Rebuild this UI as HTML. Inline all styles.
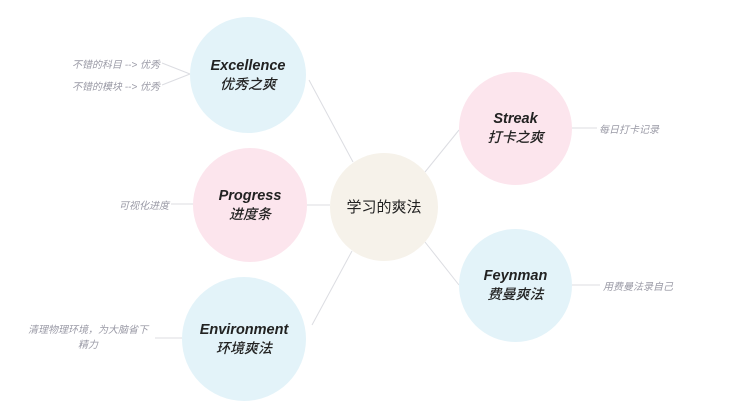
<!DOCTYPE html>
<html><head><meta charset="utf-8"><style>
body{margin:0;width:750px;height:414px;background:#fff;overflow:hidden;position:relative;font-family:"Liberation Sans","Noto Sans CJK SC",sans-serif}
.c{position:absolute;border-radius:50%;display:flex;flex-direction:column;align-items:center;justify-content:center;color:#222;font-style:italic;text-align:center}
.c b{font-size:14.5px;line-height:18px}
.c span{font-size:14px;line-height:19px;font-weight:500}
.blue{background:#e3f3f9}.pink{background:#fce5ed}
.l{position:absolute;font-size:10px;color:#9a9aa6;font-style:italic;white-space:nowrap}
</style></head><body>
<svg width="750" height="414" style="position:absolute;left:0;top:0">
<g stroke="#dcdde2" stroke-width="1" fill="none">
<line x1="309" y1="80" x2="353" y2="162"/>
<line x1="307" y1="205" x2="330" y2="205"/>
<line x1="312" y1="325" x2="352" y2="251"/>
<line x1="425" y1="172" x2="459" y2="130"/>
<line x1="425" y1="242" x2="459" y2="285"/>
<line x1="572" y1="128" x2="597" y2="128"/>
<line x1="572" y1="285" x2="600" y2="285"/>
<path d="M162 63 L190 74 M162 85 L190 74"/>
<line x1="171" y1="204" x2="193" y2="204"/>
<line x1="155" y1="338" x2="182" y2="338"/>
</g></svg>
<div class="c blue" style="left:190px;top:17px;width:116px;height:116px"><b>Excellence</b><span>优秀之爽</span></div>
<div class="c pink" style="left:193px;top:148px;width:114px;height:114px"><b>Progress</b><span>进度条</span></div>
<div class="c blue" style="left:182px;top:277px;width:124px;height:124px"><b>Environment</b><span>环境爽法</span></div>
<div class="c" style="left:330px;top:153px;width:108px;height:108px;background:#f6f2ea;font-style:normal"><span style="font-size:15px;font-weight:400">学习的爽法</span></div>
<div class="c pink" style="left:459px;top:72px;width:113px;height:113px"><b>Streak</b><span>打卡之爽</span></div>
<div class="c blue" style="left:459px;top:229px;width:113px;height:113px"><b>Feynman</b><span>费曼爽法</span></div>
<div class="l" style="right:590px;top:56px">不错的科目 --&gt; 优秀</div>
<div class="l" style="right:590px;top:78px">不错的模块 --&gt; 优秀</div>
<div class="l" style="right:581px;top:197px">可视化进度</div>
<div class="l" style="left:28px;top:323px;text-align:center;line-height:15px">清理物理环境，为大脑省下<br>精力</div>
<div class="l" style="left:599px;top:121px">每日打卡记录</div>
<div class="l" style="left:603px;top:278px">用费曼法录自己</div>
</body></html>
